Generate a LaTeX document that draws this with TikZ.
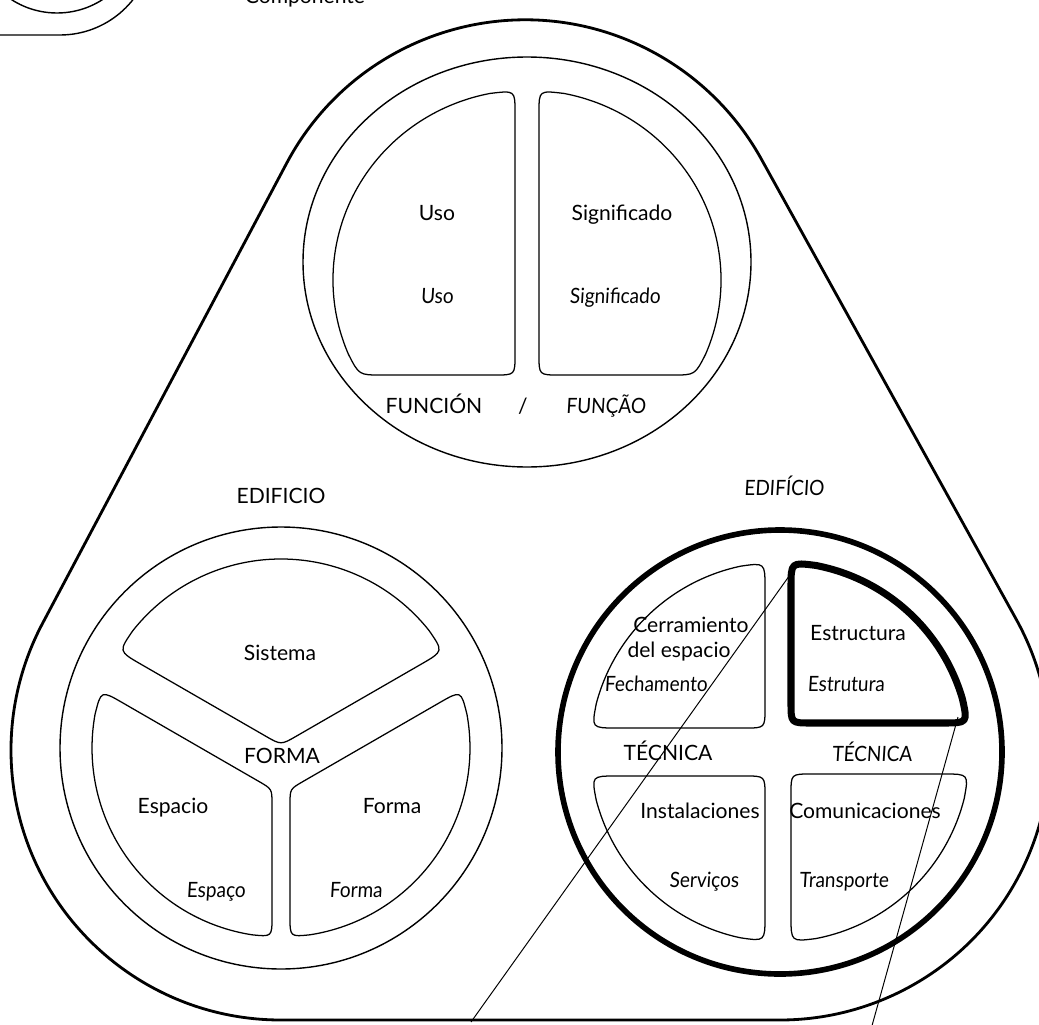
\documentclass[tikz,border=0pt]{standalone}
\usepackage{fontspec}
\newfontfamily\esfont{Lato}
\newfontfamily\ptfont[FakeStretch=0.9,FakeSlant=0.06]{Lato}
\begin{document}
\begin{tikzpicture}[x=0.025cm,y=-0.025cm,
  hull/.style={line width=2pt, line join=round},
  ring/.style={line width=1pt},
  cell/.style={line width=0.9pt, line join=round},
  heavy/.style={line width=4pt},
  heavycell/.style={line width=5pt, line join=round},
  lead/.style={line width=0.7pt},
  es/.style={font=\esfont\fontsize{15}{17}\selectfont, anchor=base, inner sep=0pt},
  pt/.style={font=\ptfont\fontsize{15}{17}\selectfont, anchor=base, inner sep=0pt}]
\useasboundingbox (0,0) rectangle (1039,1025);
\clip (0,0) rectangle (1039,1025);

% corner of the legend, top left
\draw[ring] (57,-71) circle[radius=84];
\draw[ring] (-10,35) -- (60,35) arc[start angle=90, end angle=10, radius=93];
\node[es] (componente) at (305,4) {Componente};

% rounded triangle around the three components
\draw[hull] (286.5,163.5) arc[start angle=207.9, end angle=331, radius=270]
  -- (1016.1,619.1) arc[start angle=331, end angle=450, radius=270]
  -- (281,1020) arc[start angle=90, end angle=207.9, radius=270] -- cycle;

% ---- function ----
\draw[ring] (527,262) ellipse[x radius=224, y radius=205];
\draw[cell] (515,112) -- (515,355) .. controls (515,375) .. (495,375) -- (381,375)
  .. controls (359,375) .. (348.4,354.2)
  arc[start angle=157, end angle=259, x radius=194, y radius=190]
  .. controls (515,90.4) .. (515,112) -- cycle;
\draw[cell] (539,112) -- (539,355) .. controls (539,375) .. (559,375) -- (673,375)
  .. controls (695,375) .. (705.6,354.2)
  arc[start angle=23, end angle=-79, x radius=194, y radius=190]
  .. controls (539,90.4) .. (539,112) -- cycle;

% ---- form ----
\draw[ring] (281,748) circle[radius=221];
\draw[cell] (265.4,736) .. controls (281,745) .. (296.6,736) -- (421.8,663.8)
  .. controls (443.4,651.3) .. (429.1,630.6)
  arc[start angle=-38.4, end angle=-141.6, radius=189]
  .. controls (118.6,651.3) .. (140.2,663.8) -- cycle;
\draw[cell] (272,804) -- (272,916.8) .. controls (272,936.8) .. (252.1,934.8)
  arc[start angle=98.8, end angle=190.2, radius=189]
  .. controls (101,690.3) .. (122.65,702.8) -- (259,781.5)
  .. controls (272,789) .. (272,804) -- cycle;
\draw[cell] (290,804) -- (290,916.8) .. controls (290,936.8) .. (309.9,934.8)
  arc[start angle=81.2, end angle=-10.2, radius=189]
  .. controls (461,690.3) .. (439.35,702.8) -- (303,781.5)
  .. controls (290,789) .. (290,804) -- cycle;

% ---- technique ----
\draw[heavy] (780,752) circle[radius=222];
\draw[cell] (765,708) -- (765,587.6) .. controls (765,562.6) .. (740.5,566.2)
  arc[start angle=258, end angle=194.8, radius=190]
  .. controls (591.5,728) .. (616.5,728) -- (745,728)
  .. controls (765,728) .. (765,708) -- cycle;
\draw[heavycell] (791,703) -- (791,587.3) .. controls (791,562.3) .. (815.6,565.4)
  arc[start angle=-79.2, end angle=-16.3, radius=190]
  .. controls (967.8,723) .. (942.8,723) -- (811,723)
  .. controls (791,723) .. (791,703) -- cycle;
\draw[cell] (765,796) -- (765,916.4) .. controls (765,941.4) .. (740.5,937.8)
  arc[start angle=102, end angle=165.2, radius=190]
  .. controls (591.5,776) .. (616.5,776) -- (745,776)
  .. controls (765,776) .. (765,796) -- cycle;
\draw[cell] (791,794) -- (791,916.7) .. controls (791,941.7) .. (815.6,938.6)
  arc[start angle=79.2, end angle=14.15, radius=190]
  .. controls (968.7,774) .. (943.7,774) -- (811,774)
  .. controls (791,774) .. (791,794) -- cycle;

% leader lines from the structure cell
\coordinate (leadAtop) at (792,572);
\coordinate (leadAend) at (471,1022);
\coordinate (leadBtop) at (958,717);
\coordinate (leadBend) at (868,1040);
\draw[lead] (leadAtop) -- (leadAend);
\draw[lead] (leadBtop) -- (leadBend);

% labels
\node[es] (uso) at (437,220) {Uso};
\node[pt] (usoPt) at (437,303) {Uso};
\node[es] (signif) at (622,220) {Significado};
\node[pt] (signifPt) at (615,303) {Significado};
\node[es] (funcion) at (434,413) {FUNCIÓN};
\node[es] (slash) at (523,413) {/};
\node[pt] (funcao) at (606,413) {FUNÇÃO};

\node[es] (edificio) at (281,503) {EDIFICIO};
\node[es] (sistema) at (280,660) {Sistema};
\node[es] (forma) at (282,763) {FORMA};
\node[es] (espacio) at (173,813) {Espacio};
\node[es] (formaEs) at (392,813) {Forma};
\node[pt] (espaco) at (216,897) {Espaço};
\node[pt] (formaPt) at (356,897) {Forma};

\node[pt] (edificioPt) at (784,495) {EDIFÍCIO};
\node[es] (cerr) at (691,632) {Cerramiento};
\node[es] (delesp) at (679,657) {del espacio};
\node[pt] (fech) at (656,691) {Fechamento};
\node[es] (estr) at (858,640) {Estructura};
\node[pt] (estrPt) at (846,691) {Estrutura};
\node[es] (tecnica) at (668,760) {TÉCNICA};
\node[pt] (tecnicaPt) at (872,761) {TÉCNICA};
\node[es] (instal) at (700,818) {Instalaciones};
\node[es] (comun) at (865,818) {Comunicaciones};
\node[pt] (servicos) at (704,887) {Serviços};
\node[pt] (transp) at (844,887) {Transporte};
\end{tikzpicture}
\end{document}
